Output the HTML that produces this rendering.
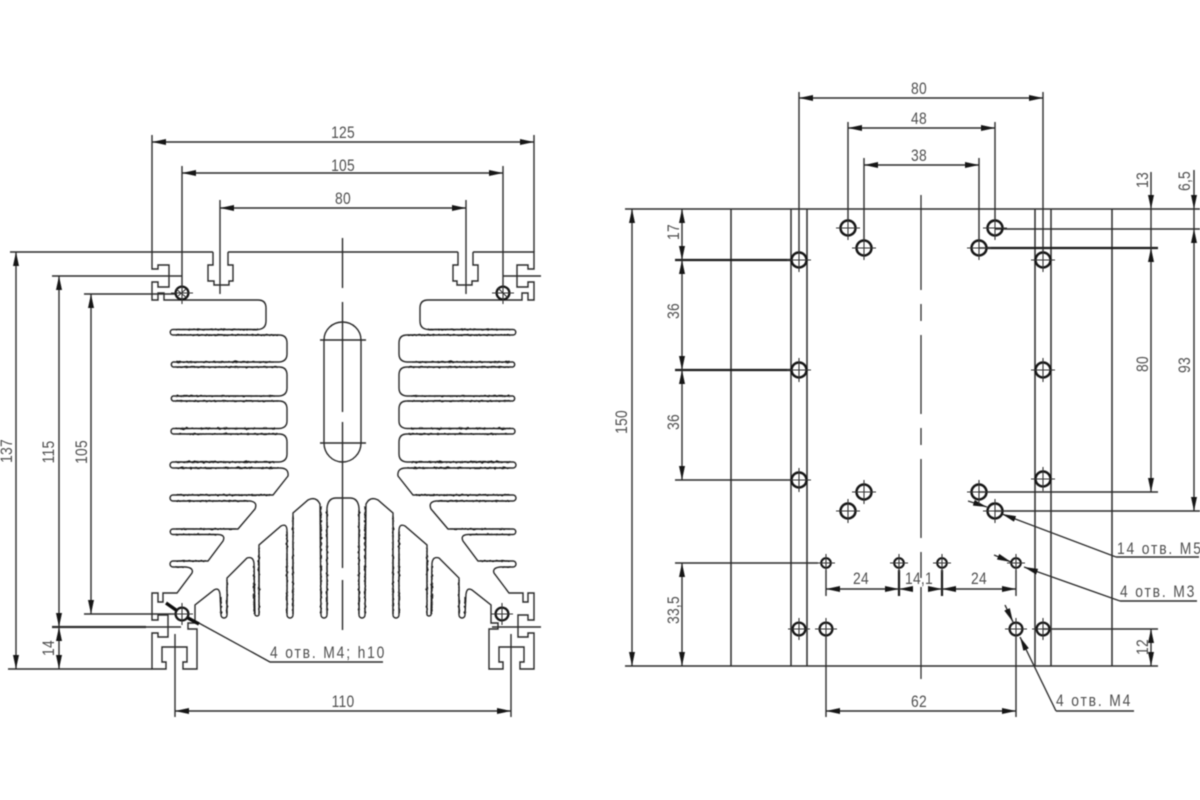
<!DOCTYPE html>
<html><head><meta charset="utf-8">
<style>
html,body{margin:0;padding:0;background:#fff;width:1200px;height:800px;overflow:hidden}
svg{display:block}
text{font-family:"Liberation Sans",sans-serif;font-size:16.500px;fill:#505050;letter-spacing:.3px}
.l{letter-spacing:2.200px}
.m{text-anchor:middle}
</style></head><body>
<svg width="1200" height="800" viewBox="0 0 1200 800" xmlns="http://www.w3.org/2000/svg">
<defs>
<marker id="a" viewBox="0 0 14 6" refX="14" refY="3" markerWidth="14" markerHeight="6" orient="auto-start-reverse" markerUnits="userSpaceOnUse"><path d="M0,0L14,3L0,6z" fill="#151515"/></marker>
<filter id="w" x="-5%" y="-5%" width="110%" height="110%" filterUnits="objectBoundingBox"><feTurbulence type="fractalNoise" baseFrequency="0.35" numOctaves="1" seed="4"/><feDisplacementMap in="SourceGraphic" scale="3.500" xChannelSelector="R" yChannelSelector="G"/></filter>
<filter id="b" x="0" y="0" width="1200" height="800" filterUnits="userSpaceOnUse"><feGaussianBlur stdDeviation="0.45"/></filter>
<g id="h8"><circle r="7.500" fill="none" stroke="#151515" stroke-width="2.500"/><path d="M-12,0H12M0,-12V12" stroke="#333" stroke-width="1.100" fill="none"/></g>
<g id="h7"><circle r="6.400" fill="none" stroke="#151515" stroke-width="2.300"/><path d="M-11,0H11M0,-11V11" stroke="#333" stroke-width="1.100" fill="none"/></g>
<g id="h5"><circle r="4.800" fill="none" stroke="#151515" stroke-width="2.100"/><path d="M-9,0H9M0,-9V9" stroke="#333" stroke-width="1.100" fill="none"/></g>
<g id="body">
<path fill="none" stroke="#2a2a2a" stroke-width="1.400" d="M213,252H152V269H158V265H169V287H158V282H152V300H158V293H164V300H258Q266,300 266,308V321Q266,329 258,329.500H173A2.700,2.700 0 0 0 173,335H279Q287,335 287,343V354Q287,361.500 279,362H173A2.700,2.700 0 0 0 173,367H279Q287,367 287,375V388Q287,395.500 279,396H173A2.700,2.700 0 0 0 173,401H279Q287,401 287,409V421Q287,428 279,428.500H173A2.900,2.900 0 0 0 173,434H279Q287,434 287,442V454Q287,461.500 279,462H173A3,3 0 0 0 173,468H280Q289,468 288,476L273,495H173A3,3 0 0 0 173,501H250Q258,502 255,509L238,529H173A2.700,2.700 0 0 0 173,534.500H218Q226,535 223,541L208,561H173A3,3 0 0 0 173,567H186Q194,568 192,573L177,593H163V602H158V593H152V620H158V615H168V637H158V633H152V669H166V662H162V647H187V662H183V669H197V629H188V623H195V605L214,590Q219,587 220,594L221,615A3,3 0 0 0 227,615V578L247,558Q253,556 254,563L255,615A2.500,2.500 0 0 0 259,615V545L281,526Q287,523 287,531V615A3,3 0 0 0 293,615V513L308,500Q316,496 320,504L321,615A3,3 0 0 0 327,615V508Q328,498 336,498H343"/>
<path d="M228,252H343M213,252V265H208V281H214V285H229V281H233V265H228V252" fill="none" stroke="#2a2a2a" stroke-width="1.400"/>
<g filter="url(#w)" fill="none" stroke="#1c1c1c" stroke-width="1.300">
<path d="M176,329.500H258M176,335H279M176,362H275M176,367H278M176,396H275M176,401H278M176,428.500H275M176,434H278M176,462H275M176,468H278M176,495H270M176,501H248M176,529H236M176,534.500H216M176,561H206M176,567H184"/>
<path d="M221,596V614M227,580V614M254,566V614M259,548V614M287,532V614M293,516V614M321,506V614M327,510V614"/>
</g>
</g>
</defs>
<rect width="1200" height="800" fill="#fff"/>
<g filter="url(#b)">
<!-- LEFT VIEW -->
<use href="#body"/>
<use href="#body" transform="matrix(-1 0 0 1 686 0)"/>
<path fill="none" stroke="#2a2a2a" stroke-width="1.400" d="M324,340A18.500,18 0 0 1 361,340V443A18.500,19 0 0 1 324,443Z"/>
<path fill="none" stroke="#2a2a2a" stroke-width="1.400" d="M342.500,238V288M342.500,302V412M342.500,422V568M342.500,580V630M320,340H366M320,443H366"/>
<path fill="none" stroke="#2f2f2f" stroke-width="1.400" d="M152,135V252M534,135V252M182,166V287M503,166V287M220,200V294M466,200V294M10,252H152M52,276H182M84,294H175M503,276H541M84,614H175M52,627H181M8,669H152M175,634V717M511,634V717M492,627H541"/>
<path fill="none" stroke="#2f2f2f" stroke-width="2.200" d="M52,627H146"/>
<g stroke="#2f2f2f" stroke-width="1.400" fill="none">
<line x1="152" y1="142" x2="534" y2="142" marker-start="url(#a)" marker-end="url(#a)"/>
<line x1="182" y1="173" x2="503" y2="173" marker-start="url(#a)" marker-end="url(#a)"/>
<line x1="220" y1="208" x2="466" y2="208" marker-start="url(#a)" marker-end="url(#a)"/>
<line x1="175" y1="711" x2="511" y2="711" marker-start="url(#a)" marker-end="url(#a)"/>
<line x1="16" y1="252" x2="16" y2="669" marker-start="url(#a)" marker-end="url(#a)"/>
<line x1="59" y1="276" x2="59" y2="627" marker-start="url(#a)" marker-end="url(#a)"/>
<line x1="59" y1="669" x2="59" y2="627" marker-start="url(#a)" marker-end="url(#a)"/>
<line x1="91" y1="294" x2="91" y2="614" marker-start="url(#a)" marker-end="url(#a)"/>
<path d="M197,622L270,662H383"/>
</g>
<use href="#h7" x="182" y="293"/><use href="#h7" x="503" y="293"/>
<path d="M176,289L187,298M498,288L508,298M178,296L186,289" stroke="#333" stroke-width="1.100" fill="none"/>
<use href="#h7" x="182" y="614"/><use href="#h7" x="502" y="614"/>
<path d="M166,603L176,610M188,618L199,624" stroke="#111" stroke-width="3.400" fill="none"/>
<text class="m" transform="translate(343 138) scale(.84 1)">125</text>
<text class="m" transform="translate(343 171) scale(.84 1)">105</text>
<text class="m" transform="translate(343 204) scale(.84 1)">80</text>
<text class="m" transform="translate(343 707) scale(.84 1)">110</text>
<text class="m" transform="translate(12 451) rotate(-90) scale(.84 1)">137</text>
<text class="m" transform="translate(54 452) rotate(-90) scale(.84 1)">115</text>
<text class="m" transform="translate(87 452) rotate(-90) scale(.84 1)">105</text>
<text class="m" transform="translate(54 648) rotate(-90) scale(.84 1)">14</text>
<text class="l" transform="translate(270 658) scale(.84 1)">4 отв. М4; h10</text>

<!-- RIGHT VIEW -->
<path fill="none" stroke="#2f2f2f" stroke-width="1.500" d="M625,209H1200M625,666H1158M731,209V666M791,209V666M807,209V666M1035,209V666M1051,209V666M1112,209V666"/>
<path fill="none" stroke="#2f2f2f" stroke-width="1.300" d="M921,195V290M921,304V321M921,335V414M921,428V445M921,459V538M921,552V578M921,587V679"/>
<path fill="none" stroke="#2f2f2f" stroke-width="1.400" d="M799,92V252M1043,92V252M848,122V220M995,122V220M864,158V240M979,158V240M675,260H791M675,370H791M675,480H791M675,563H818M995,229H1200M979,248H1158M979,492H1158M995,511H1200M1043,629H1158M826,570V596M899,570V596M942,570V596M1016,570V596M826,636V717M1016,636V717"/>
<path fill="none" stroke="#1c1c1c" stroke-width="2.200" d="M675,260H791M675,370H791M987,248H1158M899,570V596M942,570V596"/>
<g stroke="#2f2f2f" stroke-width="1.400" fill="none">
<line x1="799" y1="98" x2="1043" y2="98" marker-start="url(#a)" marker-end="url(#a)"/>
<line x1="848" y1="128" x2="995" y2="128" marker-start="url(#a)" marker-end="url(#a)"/>
<line x1="864" y1="165" x2="979" y2="165" marker-start="url(#a)" marker-end="url(#a)"/>
<line x1="632" y1="209" x2="632" y2="666" marker-start="url(#a)" marker-end="url(#a)"/>
<line x1="682" y1="209" x2="682" y2="260" marker-start="url(#a)" marker-end="url(#a)"/>
<line x1="682" y1="260" x2="682" y2="370" marker-start="url(#a)" marker-end="url(#a)"/>
<line x1="682" y1="370" x2="682" y2="480" marker-start="url(#a)" marker-end="url(#a)"/>
<line x1="682" y1="563" x2="682" y2="666" marker-start="url(#a)" marker-end="url(#a)"/>
<line x1="1151" y1="172" x2="1151" y2="209" marker-end="url(#a)"/>
<line x1="1151" y1="248" x2="1151" y2="492" marker-start="url(#a)" marker-end="url(#a)"/>
<line x1="1151" y1="209" x2="1151" y2="248"/>
<line x1="1194" y1="170" x2="1194" y2="209" marker-end="url(#a)"/>
<line x1="1194" y1="229" x2="1194" y2="511" marker-start="url(#a)" marker-end="url(#a)"/>
<line x1="1194" y1="209" x2="1194" y2="229"/>
<line x1="1151" y1="629" x2="1151" y2="666" marker-start="url(#a)" marker-end="url(#a)"/>
<line x1="826" y1="589" x2="899" y2="589" marker-start="url(#a)" marker-end="url(#a)"/>
<line x1="913" y1="589" x2="899" y2="589" marker-end="url(#a)"/>
<line x1="928" y1="589" x2="942" y2="589" marker-end="url(#a)"/>
<line x1="942" y1="589" x2="1016" y2="589" marker-start="url(#a)" marker-end="url(#a)"/>
<line x1="826" y1="711" x2="1016" y2="711" marker-start="url(#a)" marker-end="url(#a)"/>
<line x1="1116" y1="557" x2="1002" y2="514" marker-end="url(#a)"/>
<path d="M1116,557H1199"/>
<line x1="1120" y1="601" x2="1024" y2="567" marker-end="url(#a)"/>
<path d="M1120,601H1197"/>
<line x1="1056" y1="711" x2="1020" y2="637" marker-end="url(#a)"/>
<path d="M1056,711H1134"/>
<line x1="968" y1="501" x2="987" y2="507" marker-end="url(#a)"/>
<line x1="994" y1="555" x2="1011" y2="562" marker-end="url(#a)"/>
<line x1="1005" y1="605" x2="1013" y2="622" marker-end="url(#a)"/>
</g>
<use href="#h8" x="799" y="260"/><use href="#h8" x="799" y="370"/><use href="#h8" x="799" y="480"/><use href="#h7" x="799" y="629"/>
<use href="#h8" x="1043" y="260"/><use href="#h8" x="1043" y="370"/><use href="#h8" x="1043" y="479"/><use href="#h7" x="1043" y="629"/>
<use href="#h8" x="848" y="228"/><use href="#h8" x="864" y="248"/><use href="#h8" x="979" y="248"/><use href="#h8" x="995" y="228"/>
<use href="#h8" x="864" y="492"/><use href="#h8" x="848" y="511"/><use href="#h8" x="979" y="492"/><use href="#h8" x="995" y="511"/>
<use href="#h5" x="826" y="563"/><use href="#h5" x="899" y="563"/><use href="#h5" x="942" y="563"/><use href="#h5" x="1016" y="563"/>
<use href="#h7" x="826" y="629"/><use href="#h7" x="1016" y="629"/>
<text class="m" transform="translate(919 94) scale(.84 1)">80</text>
<text class="m" transform="translate(919 124) scale(.84 1)">48</text>
<text class="m" transform="translate(919 161) scale(.84 1)">38</text>
<text class="m" transform="translate(861 584) scale(.84 1)">24</text>
<text class="m" transform="translate(919 584) scale(.84 1)">14,1</text>
<text class="m" transform="translate(979 584) scale(.84 1)">24</text>
<text class="m" transform="translate(919 707) scale(.84 1)">62</text>
<text class="m" transform="translate(627 422) rotate(-90) scale(.84 1)">150</text>
<text class="m" transform="translate(679 232) rotate(-90) scale(.84 1)">17</text>
<text class="m" transform="translate(679 311) rotate(-90) scale(.84 1)">36</text>
<text class="m" transform="translate(679 422) rotate(-90) scale(.84 1)">36</text>
<text class="m" transform="translate(679 610) rotate(-90) scale(.84 1)">33,5</text>
<text class="m" transform="translate(1148 180) rotate(-90) scale(.84 1)">13</text>
<text class="m" transform="translate(1190 181) rotate(-90) scale(.84 1)">6,5</text>
<text class="m" transform="translate(1148 364) rotate(-90) scale(.84 1)">80</text>
<text class="m" transform="translate(1190 365) rotate(-90) scale(.84 1)">93</text>
<text class="m" transform="translate(1148 647) rotate(-90) scale(.84 1)">12</text>
<text class="l" transform="translate(1117 554) scale(.84 1)">14 отв. М5</text>
<text class="l" transform="translate(1120 597) scale(.84 1)">4 отв. М3</text>
<text class="l" transform="translate(1056 706) scale(.84 1)">4 отв. М4</text>
</g>
</svg>
</body></html>
